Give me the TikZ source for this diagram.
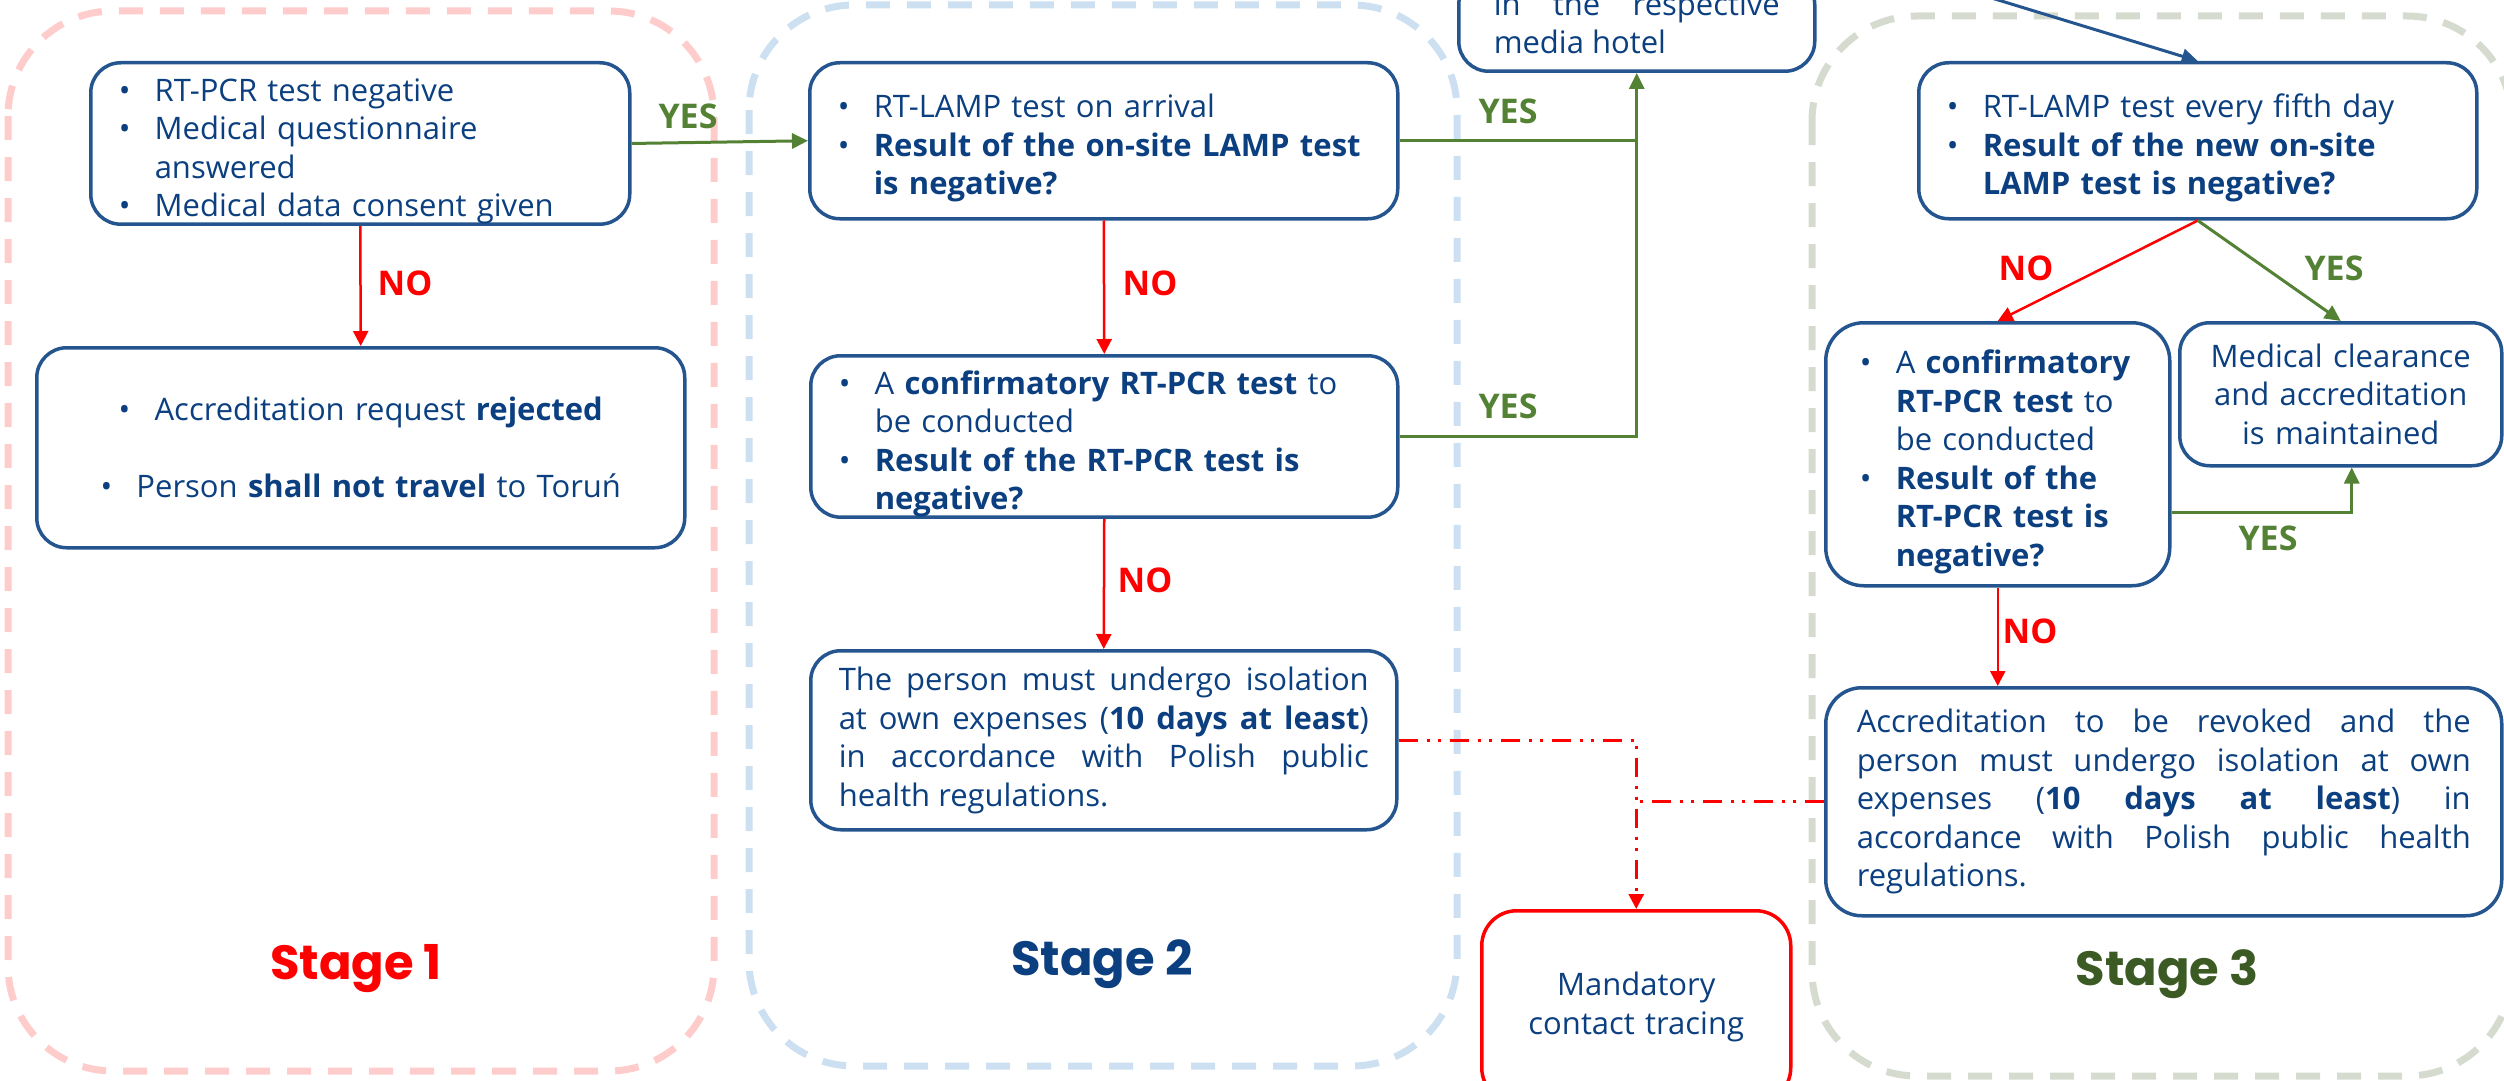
\documentclass[tikz,border=0pt]{standalone}
\usepackage{fontspec}
\setmainfont{Open Sans}
\newfontfamily\stagefont{Poppins}
\usetikzlibrary{arrows.meta,positioning,shapes}

\definecolor{navy}{HTML}{0B3F7F}
\definecolor{boxline}{HTML}{24558F}
\definecolor{yesgreen}{HTML}{548235}
\definecolor{stagegreen}{HTML}{3B5A24}
\definecolor{stonea}{HTML}{FFCCCC}
\definecolor{stoneb}{HTML}{CCE0F2}
\definecolor{stonec}{HTML}{D6DBD0}

% bullet item with hanging indent
\newcommand{\itm}[1]{\par\noindent\hangindent=36pt\hangafter=1\makebox[36pt][l]{\textbullet}#1\par}

\begin{document}
\begin{tikzpicture}[x = 1pt, y = -1pt,
  box/.style = {draw = boxline, line width = 3.5pt, rounded corners = 30pt, text = navy, anchor = north west, inner ysep = 0pt, inner xsep = 28pt, font = \fontsize{31}{38.5}\selectfont},
  stagebox/.style = {line width = 7pt, dash pattern = on 24pt off 17pt, rounded corners = 105pt},
  stagelbl/.style = {anchor = base, font = \stagefont\bfseries\fontsize{48}{60}\selectfont},
  yeslbl/.style = {text = yesgreen, font = \bfseries\fontsize{34}{40}\selectfont},
  nolbl/.style = {text = red, font = \bfseries\fontsize{34}{40}\selectfont},
  yesline/.style = {draw = yesgreen, line width = 3pt, -{Triangle[length = 16pt, width = 15pt]}},
  noline/.style = {draw = red, line width = 2.5pt, -{Triangle[length = 15pt, width = 15pt]}},
  traceline/.style = {draw = red, line width = 3pt, dash pattern = on 19pt off 9pt on 3pt off 8pt on 3pt off 9pt, -{Triangle[length = 15pt, width = 15pt]}}]
\useasboundingbox (0,0) rectangle (2504,1081);
\clip (0,0) rectangle (2504,1081);

% stages
\draw[stagebox, draw = stonea] (8,11) rectangle (714,1071);
\draw[stagebox, draw = stoneb] (749,5) rectangle (1457,1066);
\draw[stagebox, draw = stonec] (1812,16) rectangle (2512,1076);
\node[stagelbl, text = red] (st1) at (356,979) {Stage 1};
\node[stagelbl, text = navy] (st2) at (1102,975) {Stage 2};
\node[stagelbl, text = stagegreen] (st3) at (2167,985) {Stage 3};

% stage 1
\node[box, align = left, text width = 483pt, minimum height = 158pt] (s1top) at (89,61) {
  \itm{RT-PCR test negative}
  \itm{Medical questionnaire\newline answered}
  \itm{Medical data consent given}};
\node[box, align = center, text width = 592pt, minimum height = 200pt] (s1rej) at (35,346) {
  \makebox[36pt][l]{\textbullet}Accreditation request \textbf{rejected}\par\mbox{}\par
  \makebox[36pt][l]{\textbullet}Person \textbf{shall not travel} to Toruń};

% stage 2
\node[box, align = left, text width = 532pt, minimum height = 156pt] (s2lamp) at (808,61) {
  \itm{RT-LAMP test on arrival}
  \itm{\textbf{Result of the on-site LAMP test}\newline\textbf{is negative?}}};
\node[box, align = left, text width = 531pt, minimum height = 156pt] (s2pcr) at (809,354) {
  \itm{A \textbf{confirmatory RT-PCR test} to\newline be conducted}
  \itm{\textbf{Result of the RT-PCR test is}\newline\textbf{negative?}}};
\node[box, align = justify, text width = 530pt, minimum height = 179pt] (s2iso) at (809,649) {
  The person must undergo isolation\linebreak at own expenses (\textbf{10 days at least})\linebreak in accordance with Polish public\linebreak health regulations.};
\node[box, anchor = south west, align = justify, text width = 286pt, inner xsep = 35pt, inner ysep = 17pt] (hotel) at (1457,73) {
  in the respective\linebreak media hotel};
\node[box, draw = red, align = center, text width = 289pt, inner xsep = 10pt, minimum height = 192pt, rounded corners = 35pt] (trace) at (1480,909) {
  Mandatory\par contact tracing};

% stage 3
\node[box, align = left, text width = 502pt, minimum height = 156pt] (s3lamp) at (1917,61) {
  \itm{RT-LAMP test every fifth day}
  \itm{\textbf{Result of the new on-site}\newline\textbf{LAMP test is negative?}}};
\node[box, align = left, text width = 276pt, inner xsep = 34pt, minimum height = 263pt, rounded corners = 38pt] (s3pcr) at (1824,321) {
  \itm{A \textbf{confirmatory}\newline\textbf{RT-PCR test} to\newline be conducted}
  \itm{\textbf{Result of the}\newline\textbf{RT-PCR test is}\newline\textbf{negative?}}};
\node[box, align = center, text width = 302pt, inner xsep = 10pt, minimum height = 143pt] (s3ok) at (2178,321) {
  Medical clearance\par and accreditation\par is maintained};
\node[box, align = justify, text width = 614pt, inner xsep = 31pt, minimum height = 228pt, rounded corners = 36pt] (s3iso) at (1824,686) {
  Accreditation to be revoked and the\linebreak person must undergo isolation at own\linebreak expenses (\textbf{10 days at least}) in\linebreak accordance with Polish public health\linebreak regulations.};

% connectors
\coordinate (j1) at (s2lamp.east -| hotel.south);
\coordinate (feed) at (1900,-30);
\draw[yesline] (s1top.east) -- (s2lamp.west);
\draw[noline] (s1top.south) -- (s1rej.north);
\draw[yesline] (s2lamp.east) -| (hotel.south);
\draw[yesline, -] (s2pcr.east) -| (j1);
\draw[noline] (s2lamp.south) -- (s2pcr.north);
\draw[noline] (s2pcr.south) -- (s2iso.north);
\draw[traceline] (s2iso.east) -| (trace.north);
\draw[traceline, -] (s3iso.west) -- (s3iso.west -| trace.north);
\draw[draw = boxline, line width = 3pt, -{Triangle[length = 16pt, width = 15pt]}] (feed) -- (s3lamp.north);
\draw[noline] (s3lamp.south) -- (s3pcr.north);
\draw[yesline] (s3lamp.south) -- (s3ok.north);
\draw[yesline] ([yshift = -58.5pt]s3pcr.east) -| ([xshift = 11pt]s3ok.south);
\draw[noline] (s3pcr.south) -- (s3pcr.south |- s3iso.north);

% labels
\node[yeslbl] (yes1) at (688,116) {YES};
\node[nolbl] (no1) at (405,283) {NO};
\node[yeslbl] (yes2) at (1508,111) {YES};
\node[yeslbl] (yes3) at (1508,406) {YES};
\node[nolbl] (no2) at (1150,283) {NO};
\node[nolbl] (no3) at (1145,580) {NO};
\node[nolbl] (no4) at (2026,268) {NO};
\node[yeslbl] (yes4) at (2334,268) {YES};
\node[yeslbl] (yes5) at (2268,538) {YES};
\node[nolbl] (no5) at (2030,631) {NO};
\end{tikzpicture}
\end{document}
